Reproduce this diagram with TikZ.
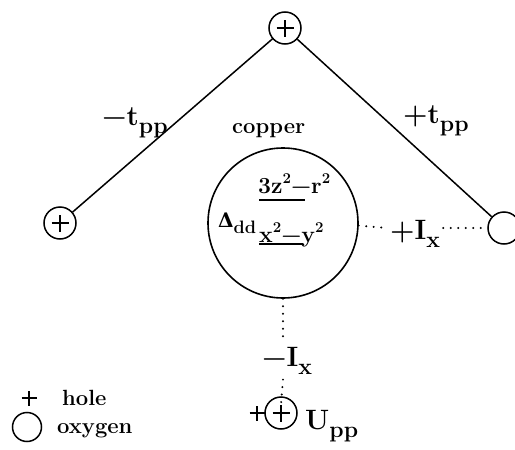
\documentclass[tikz,border=0pt]{standalone}
\usepackage{fontspec}
\newfontfamily\dvserif{DejaVu Serif}
\usetikzlibrary{calc}
\newcommand{\lo}[2][23]{\raisebox{-0.3em}{\fontsize{#1}{#1}\selectfont #2}}
\newcommand{\hi}[1]{\raisebox{0.4em}{\fontsize{15}{17}\selectfont #1}}
\begin{document}
\begin{tikzpicture}[x=1pt,y=-1pt,font=\fontsize{22}{26}\selectfont\bfseries,
  ln/.style={line width=1.5pt},
  oxygen/.style={circle,draw,line width=1.5pt,minimum size=32pt,inner sep=0pt},
  hole/.style={oxygen,path picture={
     \draw[line width=1.4pt] ($(path picture bounding box.center)+(-8.5pt,0)$) -- ++(17pt,0);
     \draw[line width=1.4pt] ($(path picture bounding box.center)+(0,-8.5pt)$) -- ++(0,17pt);}},
  plusonly/.style={minimum size=16pt,inner sep=0pt,path picture={
     \draw[line width=1.4pt] ($(path picture bounding box.center)+(-7.5pt,0)$) -- ++(15pt,0);
     \draw[line width=1.4pt] ($(path picture bounding box.center)+(0,-7.5pt)$) -- ++(0,15pt);}},
  dotline/.style={line width=2.2pt,line cap=round,dash pattern=on 0pt off 7.5pt},
  txt/.style={anchor=base west,inner sep=0pt},
  lab/.style={anchor=base west,inner sep=0pt,font=\fontsize{28}{32}\selectfont\bfseries}]
\useasboundingbox (0,0) rectangle (515,450);
% nodes
\node[hole] (top) at (285,28) {};
\node[hole] (left) at (60,223) {};
\node[oxygen] (right) at (504,228) {};
\node[circle,draw,line width=1.6pt,minimum size=150pt,inner sep=0pt] (cu) at (283,223) {};
\node[hole] (bot) at (281,413) {};
\node[plusonly] (botplus) at (257,413) {};
% hopping lines
\draw[ln] (top) -- (left);
\draw[ln] (top) -- (right);
% labels
\node[lab] (tm) at (102,125) {−t\lo{pp}};
\node[lab] (tp) at (403,123) {+t\lo{pp}};
\node[txt] (copper) at (232,133) {copper};
\node[txt,font=\fontsize{23}{27}\selectfont\bfseries] (lev1) at (258,193) {3z\hi{2}−r\hi{2}};
\node[txt,font=\fontsize{23}{27}\selectfont\bfseries] (lev2) at (259,242) {x\hi{2}−y\hi{2}};
\draw[ln] (259,200) -- (305,200);
\draw[ln] (259,244) -- (303,244);
\node[txt] (delta) at (218,227) {{\dvserif\fontsize{20}{24}\selectfont Δ}\lo[18]{dd}};
\node[lab,inner sep=3pt] (ixp) at (387,239) {+I\lo{x}};
\node[lab,inner sep=5pt] (ixm) at (257,366) {−I\lo{x}};
\node[lab] (upp) at (305,429) {U\lo{pp}};
% dotted couplings
\draw[dotline] (cu.-2) -- (ixp.west |- right.west);
\draw[dotline] (ixp.east |- right.west) -- (right.west);
\draw[dotline] (cu.south) -- (cu.south |- ixm.north);
\draw[dotline] (cu.south |- ixm.south) -- ([yshift=9pt]bot.center);
% legend
\node[plusonly] (lh) at (29,398) {};
\node[txt] (lht) at (62,405) {hole};
\node[oxygen,minimum size=29pt] (lox) at (27,427) {};
\node[txt] (lot) at (57,433) {oxygen};
\end{tikzpicture}
\end{document}
